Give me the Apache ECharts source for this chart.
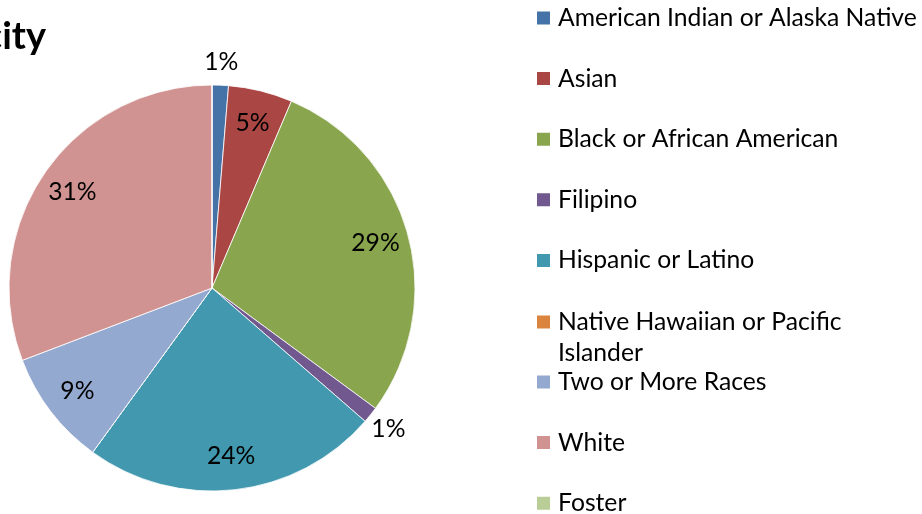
<!DOCTYPE html>
<html>
<head>
<meta charset="utf-8">
<script src="https://cdn.jsdelivr.net/npm/echarts@6/dist/echarts.min.js"></script>
<style>
html,body{margin:0;padding:0;background:#fff;}
#chart{width:922px;height:514px;}
</style>
</head>
<body>
<div id="chart"></div>
<script>
const titleText = 'Ethnicity';
const categories = [
  'American Indian or Alaska Native',
  'Asian',
  'Black or African American',
  'Filipino',
  'Hispanic or Latino',
  'Native Hawaiian or Pacific Islander',
  'Two or More Races',
  'White',
  'Foster'
];
const values = [1.3, 5.1, 28.7, 1.3, 23.6, 0, 9.2, 30.8, 0];
const colors = ['#4572A7', '#AA4643', '#89A54E', '#71588F', '#4198AF', '#DB843D', '#93A9CF', '#D19392', '#B9CD96'];

const FONT = 'Lato';
const FS = 24.7;
const data = categories.map((c, i) => ({ name: c, value: values[i] }));
const pct = p => Math.round(p.percent) + '%';
const WRAP_NAME = 'Native Hawaiian or Pacific Islander';

const legendBase = {
  orient: 'vertical',
  left: 535,
  height: 700,
  padding: 0,
  itemGap: 29.6,
  itemWidth: 15,
  itemHeight: 15,
  icon: 'rect',
  formatter: n => n === WRAP_NAME ? '\nNative Hawaiian or Pacific\nIslander' : n,
  textStyle: { fontFamily: FONT, fontSize: FS, color: '#000', lineHeight: 31, padding: [0, 0, 0, 2] }
};

const chart = echarts.init(document.getElementById('chart'));
chart.setOption({
  animation: false,
  color: colors,
  graphic: [{
    type: 'text',
    right: 876,
    top: 18,
    style: { text: titleText, font: 'bold 38px ' + FONT, fill: '#000' }
  }],
  legend: [
    Object.assign({}, legendBase, { top: 2.5, data: categories.slice(0, 5) }),
    Object.assign({}, legendBase, { top: 275.5, data: categories.slice(5, 6) }),
    Object.assign({}, legendBase, { top: 366.5, data: categories.slice(6) })
  ],
  series: [
    {
      type: 'pie',
      center: [212, 288],
      radius: 203,
      startAngle: 90,
      clockwise: true,
      data: data,
      label: { show: false },
      labelLine: { show: false },
      itemStyle: { borderColor: '#fff', borderWidth: 0.8 },
      emphasis: { disabled: true }
    },
    {
      type: 'pie',
      center: [212, 288],
      radius: [130, 203],
      startAngle: 90,
      clockwise: true,
      silent: true,
      data: data,
      itemStyle: { color: 'rgba(0,0,0,0)' },
      label: {
        show: true, position: 'inside', color: '#000', fontFamily: FONT, fontSize: FS,
        formatter: p => p.value >= 2 ? pct(p) : ''
      },
      labelLine: { show: false },
      emphasis: { disabled: true }
    },
    {
      type: 'pie',
      center: [212, 288],
      radius: [210, 236],
      startAngle: 90,
      clockwise: true,
      silent: true,
      data: data,
      itemStyle: { color: 'rgba(0,0,0,0)' },
      label: {
        show: true, position: 'inside', color: '#000', fontFamily: FONT, fontSize: FS,
        formatter: p => (p.value > 0 && p.value < 2) ? pct(p) : ''
      },
      labelLine: { show: false },
      emphasis: { disabled: true }
    }
  ]
});
</script>
</body>
</html>
